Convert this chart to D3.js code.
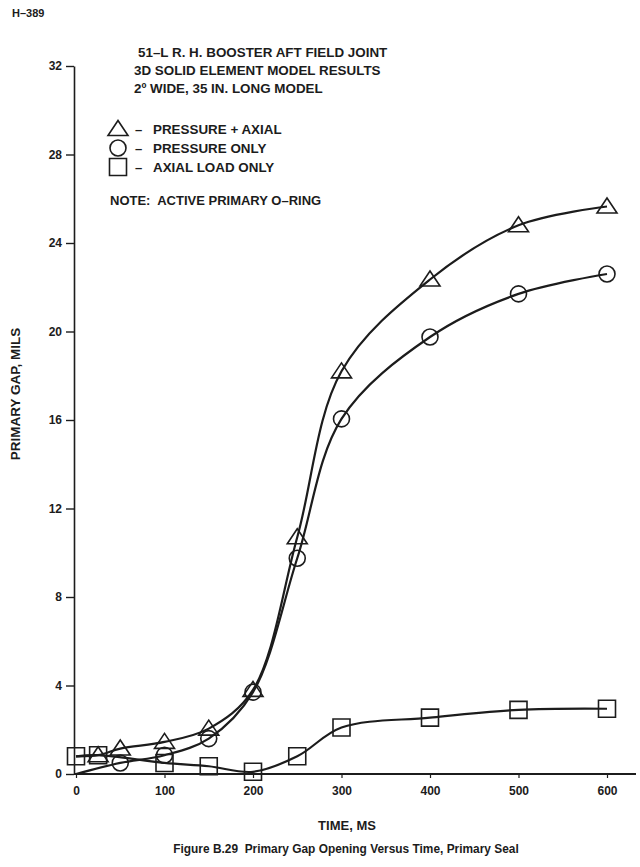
<!DOCTYPE html>
<html>
<head>
<meta charset="utf-8">
<script src="https://cdn.jsdelivr.net/npm/d3@7"></script>
<style>
  body { margin: 0; background: #fff; }
  svg { display: block; }
  text { font-family: "Liberation Sans", Arial, sans-serif; font-weight: bold; fill: #1c1c1c; white-space: pre; }
</style>
</head>
<body>
<div id="chart"></div>
<script>
// values
const titleLines = ["51\u2013L R. H. BOOSTER AFT FIELD JOINT", "3D SOLID ELEMENT MODEL RESULTS", "2\u00ba WIDE, 35 IN. LONG MODEL"];
const legendLabels = ["PRESSURE + AXIAL", "PRESSURE ONLY", "AXIAL LOAD ONLY"];
const noteText = "NOTE:  ACTIVE PRIMARY O\u2013RING";

const xTicks = [0, 100, 200, 300, 400, 500, 600];
const yTicks = [0, 4, 8, 12, 16, 20, 24, 28, 32];

const timePA = [0, 25, 50, 100, 150, 200, 250, 300, 400, 500, 600];
const pressureAxial = [0.8, 0.85, 1.15, 1.45, 2.05, 3.8, 10.7, 18.2, 22.35, 24.8, 25.65];

const timeP = [0, 50, 100, 150, 200, 250, 300, 400, 500, 600];
const pressureOnly = [0, 0.5, 0.85, 1.6, 3.7, 9.75, 16.05, 19.75, 21.7, 22.6];

const timeA = [0, 25, 100, 150, 200, 250, 300, 400, 500, 600];
const axialOnly = [0.8, 0.85, 0.5, 0.35, 0.1, 0.8, 2.1, 2.55, 2.9, 2.95];

const W = 640, H = 867;
const ink = "#1c1c1c";

const svg = d3.select("#chart").append("svg")
    .attr("width", W).attr("height", H)
    .attr("viewBox", `0 0 ${W} ${H}`);

const x = d3.scaleLinear().domain([0, 600]).range([76, 607]);
const y = d3.scaleLinear().domain([0, 32]).range([774, 66]);
const axisX = x(0) - 2;

// page header
svg.append("text").attr("x", 12).attr("y", 17)
    .style("font-size", "11px").text("H\u2013389");

// y axis
const gy = svg.append("g").attr("transform", `translate(${axisX},0)`)
    .call(d3.axisLeft(y).tickValues(yTicks).tickSize(8).tickSizeOuter(0).tickPadding(4));
gy.select(".domain").attr("stroke", ink).attr("stroke-width", 1.6);
gy.selectAll(".tick line").attr("stroke", ink).attr("stroke-width", 1.4);
gy.selectAll(".tick text").style("font-size", "12px").style("font-family", null).attr("fill", ink);

// x axis
const gx = svg.append("g").attr("transform", `translate(0,${y(0)})`)
    .call(d3.axisBottom(x).tickValues(xTicks).tickSize(4).tickSizeOuter(0).tickPadding(8));
gx.select(".domain").remove();
gx.selectAll(".tick line").attr("stroke", ink).attr("stroke-width", 1.2);
gx.selectAll(".tick text").style("font-size", "12px").style("font-family", null).attr("fill", ink);
svg.append("line")
    .attr("x1", axisX).attr("x2", x.range()[1] + 29)
    .attr("y1", y(0)).attr("y2", y(0))
    .attr("stroke", ink).attr("stroke-width", 1.8);

// axis titles
svg.append("text")
    .attr("transform", `translate(20,394) rotate(-90)`)
    .attr("text-anchor", "middle").style("font-size", "13.5px")
    .text("PRIMARY GAP, MILS");
svg.append("text").attr("x", 347).attr("y", 830)
    .attr("text-anchor", "middle").style("font-size", "13px")
    .text("TIME, MS");
svg.append("text").attr("x", 346).attr("y", 853)
    .attr("text-anchor", "middle")
    .style("font-size", "11.9px")
    .text("Figure B.29  Primary Gap Opening Versus Time, Primary Seal");

// title block
svg.append("g").selectAll("text").data(titleLines).join("text")
    .attr("x", (d, i) => i === 0 ? 138 : 134)
    .attr("y", (d, i) => 57 + i * 18)
    .style("font-size", "13.4px")
    .text(d => d);

// marker shapes
const markerPath = {
    triangle: "M0,-8.5L10,6.5L-10,6.5Z",
    circle: d3.symbol(d3.symbolCircle, 201)(),
    square: "M-8.5,-8.5H8.5V8.5H-8.5Z"
};

// legend
const legendKeys = ["triangle", "circle", "square"];
const lg = svg.append("g").selectAll("g").data(legendKeys).join("g")
    .attr("transform", (d, i) => `translate(118,${129 + i * 19})`);
lg.append("path").attr("d", d => markerPath[d])
    .attr("fill", "none").attr("stroke", ink).attr("stroke-width", 1.6);
lg.append("text").attr("x", 17).attr("y", 5)
    .style("font-size", "13px").text("\u2013");
lg.append("text").attr("x", 35).attr("y", 5)
    .style("font-size", "13.4px").text((d, i) => legendLabels[i]);
svg.append("text").attr("x", 110).attr("y", 205)
    .style("font-size", "13px").text(noteText);

// series
const series = [
    {key: "triangle", t: timePA, v: pressureAxial, markFrom: 1},
    {key: "circle", t: timeP, v: pressureOnly, markFrom: 1},
    {key: "square", t: timeA, v: axialOnly, markFrom: 0}
];

const line = d3.line()
    .x(d => x(d[0])).y(d => y(d[1]))
    .curve(d3.curveCatmullRom.alpha(0.5));

series.forEach(s => {
    const pts = s.t.map((t, i) => [t, s.v[i]]);
    svg.append("path").datum(pts)
        .attr("d", line)
        .attr("fill", "none").attr("stroke", ink).attr("stroke-width", 2.2);
    svg.append("g").selectAll("path").data(pts.slice(s.markFrom)).join("path")
        .attr("transform", d => `translate(${x(d[0])},${y(d[1])})`)
        .attr("d", markerPath[s.key])
        .attr("fill", "none").attr("stroke", ink).attr("stroke-width", 1.6);
});
</script>
</body>
</html>
